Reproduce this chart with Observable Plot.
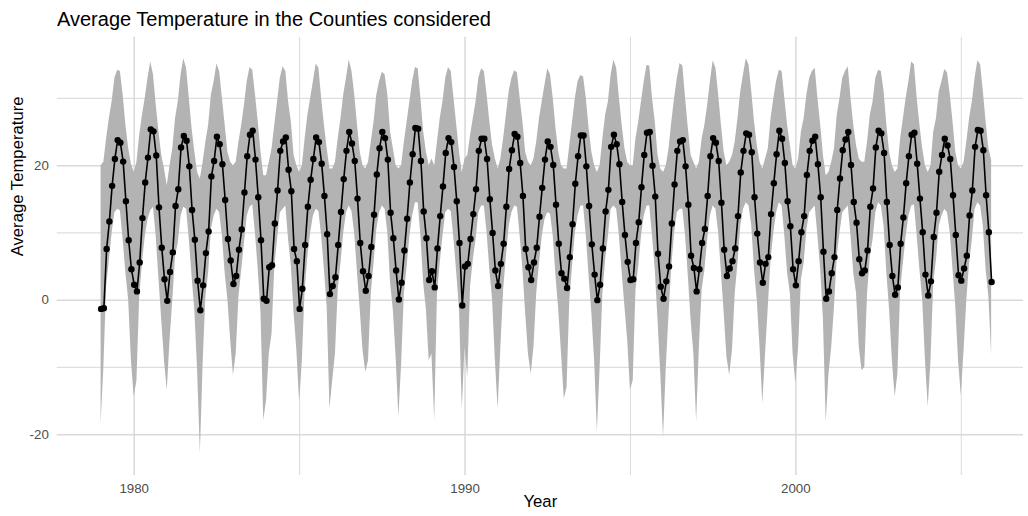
<!DOCTYPE html>
<html>
<head>
<meta charset="utf-8">
<script src="https://cdn.jsdelivr.net/npm/d3@7"></script>
<script src="https://cdn.jsdelivr.net/npm/@observablehq/plot@0.6"></script>
<style>
  body { margin: 0; background: #fff; }
  #wrap { position: relative; width: 1028px; height: 516px; font-family: "Liberation Sans", Arial, Helvetica, sans-serif; }
  #title { position: absolute; left: 57px; top: 8px; font-size: 20px; color: #000; white-space: nowrap; line-height: normal; }
  #chart { position: absolute; left: 0; top: 0; }
</style>
</head>
<body>
<div id="wrap">
  <div id="chart"></div>
  <div id="title">Average Temperature in the Counties considered</div>
</div>
<script>
const years = [1979,1980,1981,1982,1983,1984,1985,1986,1987,1988,1989,1990,1991,1992,1993,1994,1995,1996,1997,1998,1999,2000,2001,2002,2003,2004,2005];

// monthly mean temperature, Jan..Dec per year
const avgTemp = [
  -1.3, -1.2, 7.6, 11.7, 17.0, 21.0, 23.8, 23.4, 20.6, 14.7, 8.9, 4.6,
  2.3, 1.3, 5.6, 12.2, 17.5, 21.2, 25.4, 25.1, 21.5, 13.8, 7.8, 3.1,
  -0.1, 4.2, 7.1, 14.0, 16.5, 22.7, 24.4, 23.7, 19.9, 13.4, 9.0, 2.9,
  -1.5, 2.2, 7.0, 10.2, 18.4, 20.7, 24.3, 23.2, 20.2, 14.9, 9.1, 5.9,
  2.4, 3.6, 7.5, 10.5, 16.0, 21.4, 24.6, 25.2, 20.9, 15.3, 8.9, 0.2,
  -0.1, 4.9, 5.2, 11.4, 16.3, 22.2, 23.6, 24.2, 19.4, 16.2, 7.6, 5.8,
  -1.3, 1.7, 8.2, 13.9, 17.9, 21.0, 24.2, 23.5, 20.3, 15.5, 9.8, 0.9,
  2.1, 3.4, 8.2, 13.1, 18.0, 22.2, 25.0, 23.3, 20.7, 15.1, 8.5, 4.3,
  1.4, 3.6, 7.9, 12.7, 18.7, 22.6, 25.0, 24.1, 20.9, 13.0, 9.2, 4.4,
  0.1, 2.6, 7.4, 12.1, 17.5, 21.7, 25.6, 25.5, 20.7, 13.2, 9.2, 3.0,
  4.3, 1.9, 7.7, 12.5, 16.9, 21.9, 24.1, 23.5, 19.8, 14.7, 8.5, -0.8,
  5.0, 5.4, 9.1, 12.8, 16.5, 22.2, 24.0, 24.0, 21.0, 15.0, 10.0, 4.4,
  2.1, 5.4, 8.4, 13.9, 19.5, 22.3, 24.7, 24.3, 20.4, 15.5, 7.6, 4.9,
  3.0, 5.6, 7.8, 12.4, 16.7, 20.9, 23.6, 22.8, 20.1, 14.2, 8.4, 4.0,
  3.2, 1.8, 6.4, 11.3, 17.3, 21.4, 24.5, 24.5, 19.9, 14.0, 8.3, 3.8,
  0.0, 2.3, 7.7, 13.2, 16.4, 22.8, 24.6, 23.2, 20.2, 14.6, 9.7, 5.7,
  3.0, 3.1, 8.5, 11.6, 16.8, 21.6, 24.9, 25.0, 20.0, 15.4, 6.9, 2.0,
  0.2, 2.8, 5.0, 11.4, 17.2, 22.2, 23.6, 23.8, 19.9, 14.2, 6.6, 4.8,
  1.3, 4.6, 8.5, 10.6, 15.5, 21.4, 24.1, 23.4, 20.7, 14.5, 7.5, 3.6,
  4.7, 5.8, 7.7, 12.5, 19.0, 22.2, 24.8, 24.6, 22.0, 15.3, 9.9, 5.6,
  2.6, 5.4, 6.4, 12.8, 17.4, 21.7, 25.2, 24.0, 20.4, 14.7, 11.0, 4.6,
  2.2, 5.8, 10.1, 12.5, 18.6, 22.2, 23.7, 24.3, 20.2, 15.3, 7.2, 0.2,
  1.3, 4.0, 6.4, 13.4, 18.1, 22.3, 23.9, 25.0, 20.1, 14.6, 11.5, 6.1,
  4.0, 4.4, 7.4, 13.9, 16.6, 22.7, 25.2, 24.8, 21.9, 14.6, 8.2, 3.6,
  0.8, 1.9, 8.4, 12.3, 17.4, 21.4, 24.6, 24.9, 20.3, 15.1, 10.1, 3.8,
  0.7, 2.8, 9.4, 13.0, 19.1, 21.6, 24.0, 23.0, 21.0, 15.6, 9.7, 3.7,
  2.9, 4.7, 6.6, 12.6, 16.3, 22.8, 25.3, 25.2, 22.3, 15.6, 10.1, 2.7
];

// lower edge of the grey band, Jan..Dec per year
const lowTemp = [
  -18.4, -10.0, 2.0, 6.0, 10.0, 13.0, 13.5, 13.3, 9.0, 4.0, 0.0, -9.0,
  -14.4, -12.0, 0.5, 5.5, 9.4, 12.0, 13.3, 13.8, 9.4, 3.0, -3.0, -9.0,
  -13.4, -6.0, 0.0, 6.5, 8.5, 12.5, 13.8, 13.5, 9.0, 3.5, -1.5, -10.5,
  -22.8, -9.5, 0.5, 4.0, 10.5, 12.5, 13.5, 13.0, 9.5, 4.0, 0.0, -6.0,
  -11.2, -8.0, 0.5, 4.5, 8.5, 12.5, 13.8, 14.2, 9.8, 4.5, -2.0, -17.9,
  -15.0, -8.0, -5.0, 5.0, 9.0, 13.0, 13.5, 14.0, 9.0, 5.0, -2.0, -7.5,
  -15.2, -9.0, 1.5, 6.5, 10.0, 12.5, 13.5, 13.2, 9.5, 4.5, -1.0, -16.2,
  -12.0, -8.0, 1.5, 5.5, 10.0, 13.0, 14.0, 13.2, 9.8, 4.0, -1.5, -7.5,
  -10.7, -9.0, 1.0, 5.5, 10.5, 13.0, 14.0, 13.5, 10.0, 2.5, -1.5, -8.5,
  -17.4, -9.5, 1.0, 5.0, 9.5, 12.5, 14.5, 14.5, 9.5, 2.5, -1.5, -9.0,
  -8.0, -17.9, 1.0, 5.5, 9.5, 13.0, 13.5, 13.2, 9.0, 4.0, -1.5, -16.2,
  -7.0, -11.5, 2.0, 6.0, 9.0, 13.0, 14.0, 14.0, 10.0, 4.5, 0.0, -9.0,
  -16.2, -7.0, 1.5, 6.5, 11.0, 13.0, 14.0, 13.8, 9.5, 4.5, -2.0, -8.0,
  -11.0, -7.0, 1.0, 5.5, 9.5, 12.0, 13.0, 12.8, 9.5, 3.5, -1.5, -8.0,
  -14.7, -13.0, 0.0, 5.0, 10.0, 12.5, 14.0, 14.0, 9.5, 3.5, -2.0, -9.0,
  -19.6, -10.0, 1.0, 6.0, 9.5, 13.5, 14.0, 13.5, 9.5, 4.0, -1.0, -6.0,
  -13.4, -12.0, 1.5, 5.0, 9.5, 12.5, 14.0, 14.0, 9.5, 4.5, -3.0, -11.0,
  -20.4, -10.0, -2.0, 5.0, 10.0, 13.0, 13.5, 13.5, 9.5, 3.5, -3.0, -8.0,
  -18.1, -7.0, 1.5, 4.5, 9.0, 12.5, 14.0, 13.5, 10.0, 4.0, -2.0, -8.5,
  -11.2, -7.5, 1.0, 5.5, 11.0, 13.5, 14.5, 14.0, 11.0, 4.5, 0.0, -7.0,
  -15.4, -8.0, -1.0, 6.0, 10.0, 13.0, 14.5, 14.0, 9.5, 4.0, 1.0, -8.0,
  -12.4, -7.0, 3.0, 5.5, 10.5, 13.0, 13.5, 14.0, 9.5, 4.5, -3.0, -18.1,
  -11.0, -7.0, -1.0, 6.5, 10.0, 13.0, 13.5, 14.0, 9.5, 4.0, 1.0, -7.0,
  -10.5, -10.0, 1.0, 6.5, 9.0, 13.0, 14.5, 14.0, 11.0, 4.0, -1.5, -9.0,
  -14.4, -11.0, 1.5, 5.5, 9.5, 12.5, 14.0, 14.2, 9.5, 4.5, 0.0, -9.0,
  -15.9, -9.0, 2.5, 6.0, 11.0, 12.5, 13.5, 13.0, 10.0, 4.5, -1.0, -9.0,
  -14.2, -7.5, 0.0, 5.5, 9.0, 13.5, 14.5, 14.0, 11.0, 4.5, 0.5, -8.2
];

// upper edge of the grey band, Jan..Dec per year
const highTemp = [
  20.0, 20.5, 24.0, 27.0, 29.5, 33.0, 34.2, 34.0, 30.5, 26.0, 22.5, 20.2,
  19.0, 20.5, 24.5, 27.5, 30.0, 33.0, 35.4, 33.5, 29.0, 25.0, 21.5, 19.5,
  17.0, 20.0, 22.5, 27.0, 29.5, 33.5, 35.9, 34.5, 30.0, 25.5, 22.0, 19.0,
  18.0, 20.5, 23.5, 26.0, 30.5, 32.5, 35.1, 34.0, 30.0, 26.0, 22.0, 20.5,
  20.0, 20.5, 23.5, 26.0, 29.0, 32.5, 34.6, 34.2, 30.5, 26.5, 22.0, 18.5,
  18.5, 20.5, 22.5, 26.0, 29.5, 33.0, 34.7, 34.0, 29.5, 26.5, 21.5, 20.0,
  19.0, 20.0, 24.0, 27.5, 30.0, 32.5, 35.1, 34.5, 30.0, 26.0, 22.5, 19.5,
  19.5, 20.5, 24.0, 27.0, 30.5, 33.0, 35.7, 34.0, 30.5, 26.0, 22.0, 20.0,
  19.5, 20.5, 23.5, 26.5, 30.5, 32.5, 33.9, 33.5, 30.5, 25.0, 22.5, 20.0,
  19.5, 20.0, 23.5, 26.5, 29.5, 32.5, 34.6, 34.4, 30.0, 25.0, 22.0, 20.0,
  21.0, 20.0, 23.5, 27.0, 29.5, 33.0, 34.6, 34.0, 30.0, 26.0, 22.0, 19.0,
  21.0, 21.5, 24.5, 27.0, 29.5, 33.0, 34.4, 34.0, 30.5, 26.5, 23.0, 21.0,
  19.5, 21.0, 24.0, 27.5, 31.0, 33.0, 34.1, 33.8, 30.0, 26.5, 22.0, 20.5,
  20.0, 21.0, 23.5, 27.0, 29.5, 32.0, 34.4, 33.5, 30.0, 25.5, 22.0, 20.0,
  19.5, 19.5, 23.0, 26.5, 30.0, 32.5, 33.4, 33.2, 30.0, 25.5, 22.0, 20.0,
  19.0, 20.0, 24.0, 27.5, 29.5, 33.5, 35.7, 34.5, 30.0, 26.0, 22.5, 20.5,
  20.0, 20.0, 24.0, 26.5, 29.5, 32.5, 34.9, 34.8, 30.0, 26.5, 21.5, 19.5,
  19.0, 20.0, 22.5, 26.5, 30.0, 33.0, 35.2, 34.8, 30.0, 25.5, 21.5, 20.5,
  19.5, 20.5, 24.0, 26.0, 29.0, 32.5, 35.6, 34.5, 30.5, 26.0, 22.0, 20.0,
  20.5, 21.5, 23.5, 27.0, 31.0, 33.5, 35.9, 35.0, 31.0, 26.5, 23.0, 20.5,
  19.5, 21.0, 22.5, 27.0, 30.0, 32.5, 34.2, 34.0, 30.0, 26.0, 23.0, 20.0,
  19.5, 21.0, 25.0, 27.0, 30.5, 33.0, 34.0, 34.5, 30.0, 26.0, 21.5, 18.5,
  19.0, 20.5, 22.5, 27.5, 30.0, 33.0, 34.0, 34.7, 30.0, 26.0, 23.0, 21.0,
  20.5, 20.5, 23.5, 27.5, 29.5, 33.0, 34.2, 34.0, 31.0, 26.0, 22.0, 20.0,
  19.0, 19.5, 24.0, 27.0, 30.0, 32.5, 35.4, 35.0, 30.0, 26.0, 22.5, 20.0,
  19.0, 20.0, 25.0, 27.0, 31.0, 32.5, 34.3, 33.8, 30.5, 26.5, 22.0, 20.0,
  19.5, 20.5, 23.5, 27.0, 29.5, 33.0, 35.6, 35.0, 31.0, 26.5, 22.5, 20.8
];

const xTicks = [1980, 1990, 2000];
const xMinor = [1985, 1995, 2005];
const yTicks = [-20, 0, 20];
const yMinor = [-10, 10, 30];

const rows = [];
years.forEach((yr, i) => {
  for (let m = 0; m < 12; m++) {
    const k = i * 12 + m;
    rows.push({ t: yr + m / 12, avg: avgTemp[k], lo: lowTemp[k], hi: highTemp[k] });
  }
});

const font = '"Liberation Sans", Arial, Helvetica, sans-serif';

const chart = Plot.plot({
  width: 1028,
  height: 516,
  marginLeft: 56.7,
  marginRight: 5,
  marginTop: 36.7,
  marginBottom: 41,
  style: { fontFamily: font, background: "transparent", overflow: "visible" },
  x: { domain: [1977.673, 2006.88], label: null },
  y: { domain: [-26.07, 39.1], label: null },
  marks: [
    Plot.ruleX(xMinor, { stroke: "#dedede", strokeWidth: 1.1 }),
    Plot.ruleY(yMinor, { stroke: "#dedede", strokeWidth: 1.1 }),
    Plot.ruleX(xTicks, { stroke: "#d9d9d9", strokeWidth: 1.5 }),
    Plot.ruleY(yTicks, { stroke: "#d9d9d9", strokeWidth: 1.5 }),
    Plot.areaY(rows, { x: "t", y1: "lo", y2: "hi", fill: "#b3b3b3" }),
    Plot.line(rows, { x: "t", y: "avg", stroke: "#000", strokeWidth: 1.6 }),
    Plot.dot(rows, { x: "t", y: "avg", r: 3.2, fill: "#000", stroke: "none" }),
    Plot.axisX({ ticks: xTicks, tickFormat: d => String(d), tickSize: 0, tickPadding: 8.4, fontSize: 13.3, color: "#4d4d4d", label: null }),
    Plot.axisY({ ticks: yTicks, tickFormat: d => String(d), tickSize: 0, tickPadding: 8.4, fontSize: 13.3, color: "#4d4d4d", label: null }),
    Plot.text(["Year"], { frameAnchor: "bottom", dy: 31, fontSize: 16.7, fill: "#000", text: d => d }),
    Plot.text(["Average Temperature"], { frameAnchor: "left", dx: -40, rotate: -90, fontSize: 16.7, fill: "#000", text: d => d })
  ]
});
document.getElementById("chart").appendChild(chart);
</script>
</body>
</html>
